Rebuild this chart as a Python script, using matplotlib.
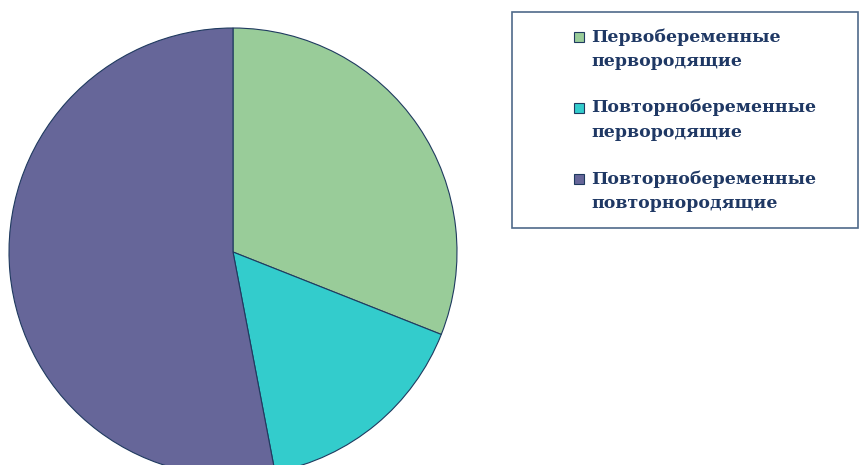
import matplotlib
matplotlib.use("Agg")
import matplotlib.pyplot as plt
from matplotlib.patches import Rectangle

labels = [
    "Первобеременные\nпервородящие",
    "Повторнобеременные\nпервородящие",
    "Повторнобеременные\nповторнородящие",
]
values = [31, 16, 53]
colors = ["#99cc99", "#33cccc", "#666699"]

W, H = 861, 465
fig = plt.figure(figsize=(W / 100, H / 100), dpi=100)
fig.patch.set_facecolor("white")

# pie axes: center (233, 252) px, radius 224 px
cx, cy, r = 233, 252, 224
ax = fig.add_axes([(cx - r) / W, (H - cy - r) / H, 2 * r / W, 2 * r / H])
ax.pie(values, colors=colors, startangle=90, counterclock=False, radius=1,
       wedgeprops=dict(edgecolor="#1f3a5f", linewidth=0.8))
ax.set_xlim(-1, 1)
ax.set_ylim(-1, 1)
ax.set_aspect("equal")
ax.axis("off")

# legend drawn by hand to match the box layout
box = Rectangle((512 / W, 1 - 228 / H), (858 - 512) / W, (228 - 12) / H,
                transform=fig.transFigure, facecolor="white",
                edgecolor="#4f6a8a", linewidth=1.2)
fig.patches.append(box)

text_color = "#1f3864"
for i, (lab, col) in enumerate(zip(labels, colors)):
    y0 = 37 + i * 71
    fig.patches.append(Rectangle((574 / W, 1 - (y0 + 5) / H), 10 / W, 10 / H,
                                 transform=fig.transFigure, facecolor=col,
                                 edgecolor="#1f3a5f", linewidth=0.8))
    fig.text(591 / W, 1 - (y0 - 9) / H, lab, ha="left", va="top",
             fontsize=12.5, fontweight="bold", family="DejaVu Serif",
             color=text_color, linespacing=1.55)

fig.savefig("out.png", dpi=100)
